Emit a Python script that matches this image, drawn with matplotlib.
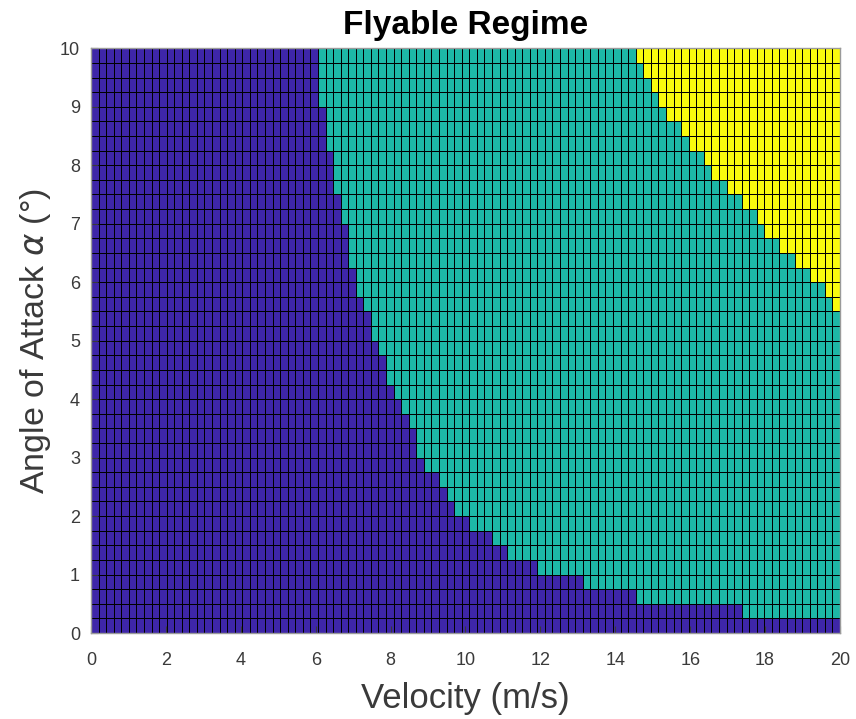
import numpy as np
import matplotlib
matplotlib.use("Agg")
import matplotlib.pyplot as plt
from matplotlib.colors import ListedColormap, BoundaryNorm

# Grid (cell edges) of the pcolor plot
velocity_edges = np.linspace(0, 20, 100)   # 99 velocity cells
alpha_edges = np.linspace(0, 10, 41)       # 40 angle-of-attack cells

# For each alpha row (bottom to top): index of the first flyable (teal) velocity cell
flyable_start = [99, 86, 72, 65, 59, 55, 53, 50, 48, 47,
                 46, 44, 43, 43, 42, 41, 40, 39, 39, 38,
                 37, 37, 36, 35, 35, 34, 34, 34, 33, 33,
                 32, 32, 32, 31, 31, 31, 30, 30, 30, 30]
# For each alpha row: index of the first yellow velocity cell (99 = none)
yellow_start = [99] * 22 + [98, 97, 95, 93, 91, 89, 88, 86, 84, 82,
                            81, 79, 78, 76, 75, 74, 73, 72]

regime_colors = ["#3E26A8", "#1DB8A6", "#F9FB0E"]

ncols = len(velocity_edges) - 1
nrows = len(alpha_edges) - 1
cols = np.arange(ncols)
regime = np.zeros((nrows, ncols))
for k in range(nrows):
    regime[k, cols >= flyable_start[k]] = 1
    regime[k, cols >= yellow_start[k]] = 2

fig = plt.figure(figsize=(8.56, 7.19), dpi=100)
ax = fig.add_axes([0.1063, 0.1196, 0.875, 0.8132])
cmap = ListedColormap(regime_colors)
norm = BoundaryNorm([-0.5, 0.5, 1.5, 2.5], cmap.N)
ax.pcolormesh(velocity_edges, alpha_edges, regime, cmap=cmap, norm=norm,
              edgecolors="black", linewidth=0.6)

ax.set_xlim(0, 20)
ax.set_ylim(0, 10)
ax.set_xticks(np.arange(0, 21, 2))
ax.set_yticks(np.arange(0, 11, 1))
tc = "#3a3a3a"
ax.tick_params(direction="in", labelsize=13, colors=tc, length=5)
ax.tick_params(axis="x", pad=14)
ax.tick_params(axis="y", pad=8)
for s in ax.spines.values():
    s.set_color("#9a9a9a")
    s.set_linewidth(1.0)

ax.set_title("Flyable Regime", fontsize=24, fontweight="bold",
             family="Liberation Sans", pad=10, color="black")
ax.set_xlabel("Velocity (m/s)", fontsize=25, color=tc, family="Liberation Sans",
              labelpad=9)
ax.set_ylabel("Angle of Attack $\\alpha$ (°)", fontsize=24.5, color=tc,
              family="Liberation Sans", labelpad=5)
for lbl in ax.get_xticklabels() + ax.get_yticklabels():
    lbl.set_family("Liberation Sans")

fig.savefig("out.png", dpi=100)
